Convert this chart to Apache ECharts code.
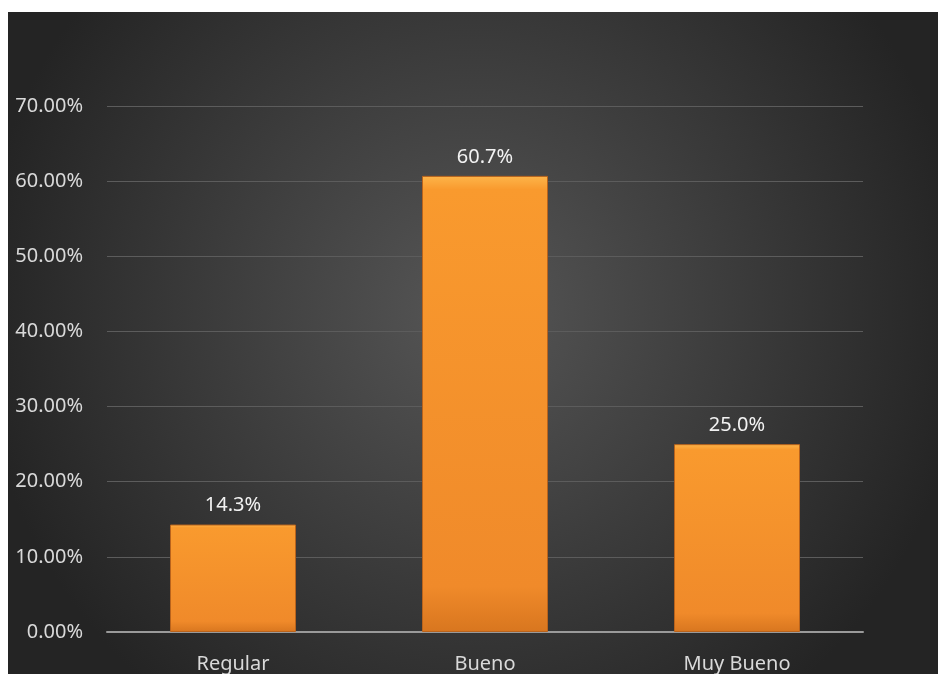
<!DOCTYPE html>
<html><head><meta charset="utf-8">
<script src="https://cdn.jsdelivr.net/npm/echarts@6/dist/echarts.min.js"></script>
<style>html,body{margin:0;padding:0;background:#fff;}#c{width:938px;height:674px;}</style>
</head><body><div id="c"></div>
<script>
const categories = ["Regular", "Bueno", "Muy Bueno"];
const values = [0.143, 0.607, 0.25];
const labels = ["14.3%", "60.7%", "25.0%"];
const yTicks = [0, 0.1, 0.2, 0.3, 0.4, 0.5, 0.6, 0.7];

const chart = echarts.init(document.getElementById('c'), null, {renderer: 'canvas'});
chart.setOption({
  backgroundColor: '#ffffff',
  animation: false,
  graphic: [{
    type: 'rect', z: -10, silent: true,
    shape: {x: 8, y: 12, width: 930, height: 662},
    style: {fill: new echarts.graphic.RadialGradient(0.5, 0.45, 0.75, [
      {offset: 0, color: '#565656'}, {offset: 1, color: '#242424'}
    ])}
  }],
  grid: {left: 107, right: 75, top: 106, bottom: 42, containLabel: false},
  xAxis: {
    type: 'category', data: categories,
    axisLine: {show: true, lineStyle: {color: '#9a9a9a', width: 2}},
    axisTick: {show: false},
    axisLabel: {color: '#d9d9d9', fontSize: 20, fontFamily: 'Noto Sans', margin: 22}
  },
  yAxis: {
    type: 'value', min: 0, max: 0.7, interval: 0.1,
    axisLine: {show: false}, axisTick: {show: false},
    splitLine: {lineStyle: {color: '#5c5c5c', width: 1}},
    axisLabel: {color: '#d9d9d9', fontSize: 20, fontFamily: 'Noto Sans', margin: 24,
      formatter: v => (v * 100).toFixed(2) + '%'}
  },
  series: [{
    type: 'bar', data: values, barWidth: '50%',
    itemStyle: {
      color: new echarts.graphic.LinearGradient(0, 0, 0, 1, [
        {offset: 0, color: '#fdb54a'}, {offset: 0.03, color: '#f99a2e'},
        {offset: 0.9, color: '#f08a2a'}, {offset: 1, color: '#d8761f'}
      ]),
      borderColor: '#b9631c', borderWidth: 1
    },
    label: {show: true, position: 'top', distance: 9, color: '#f2f2f2', fontSize: 20,
      fontFamily: 'Noto Sans', formatter: p => labels[p.dataIndex]}
  }]
});
</script></body></html>
